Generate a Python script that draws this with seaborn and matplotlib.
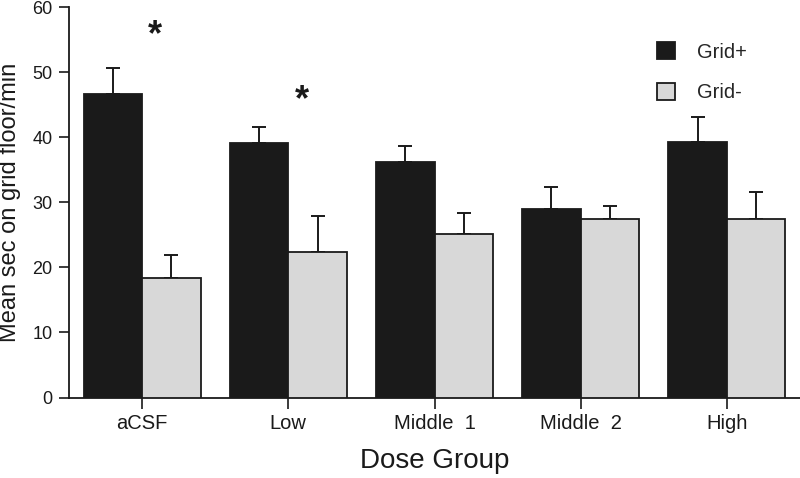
import matplotlib.pyplot as plt
import numpy as np
import pandas as pd
import seaborn as sns

sns.set_style('ticks')
plt.rcParams['font.family'] = ['Liberation Sans', 'DejaVu Sans']

groups = ['aCSF', 'Low', 'Middle  1', 'Middle  2', 'High']
conditions = ['Grid+', 'Grid-']
grid_plus = [46.7, 39.1, 36.2, 28.9, 39.2]
grid_minus = [18.4, 22.3, 25.2, 27.4, 27.4]
sem_plus = [3.9, 2.5, 2.5, 3.5, 3.9]
sem_minus = [3.5, 5.6, 3.2, 2.1, 4.2]
stars = [('aCSF', 55.6), ('Low', 45.6)]

df = pd.DataFrame({
    'group': groups * 2,
    'condition': ['Grid+'] * 5 + ['Grid-'] * 5,
    'value': grid_plus + grid_minus,
    'err': sem_plus + sem_minus,
})

fig = plt.figure(figsize=(8, 4.78), dpi=100)
ax = fig.add_axes([0.08625, 0.1684, 0.91375, 0.8169])

sns.barplot(data=df, x='group', y='value', hue='condition', order=groups,
            hue_order=conditions, palette=['#1a1a1a', '#d8d8d8'],
            errorbar=None, width=0.8, edgecolor='#1a1a1a', linewidth=1.3,
            ax=ax, zorder=3)

# one-sided error bars from the bar tops
for cont, cond in zip(ax.containers, conditions):
    sub = df[df['condition'] == cond].set_index('group').loc[groups]
    xs = [p.get_x() + p.get_width() / 2 for p in cont.patches]
    errs = sub['err'].to_numpy()
    ax.errorbar(xs, sub['value'], yerr=[np.zeros(len(errs)), errs], fmt='none',
                ecolor='#1a1a1a', elinewidth=1.4, capsize=5, capthick=1.4, zorder=2)

for name, y in stars:
    ax.text(groups.index(name) + 0.09, y, '*', ha='center', va='center',
            fontsize=26, fontweight='bold', color='#1a1a1a')

ax.set_xlim(-0.5, 4.5)
ax.set_ylim(0, 60)
ax.set_yticks(range(0, 61, 10))
ax.set_xlabel('Dose Group', fontsize=20, color='#1a1a1a', labelpad=11)
ax.set_ylabel('Mean sec on grid floor/min', fontsize=17, color='#1a1a1a', labelpad=8)
ax.tick_params(axis='y', labelsize=13, length=7, width=1.2, colors='#1a1a1a', pad=5)
ax.tick_params(axis='x', labelsize=14.5, length=8, width=1.2, colors='#1a1a1a', pad=4)
for s in ['left', 'bottom']:
    ax.spines[s].set_linewidth(1.3)
    ax.spines[s].set_color('#1a1a1a')
sns.despine(ax=ax)

ax.legend(loc='upper left', bbox_to_anchor=(0.79, 0.935), frameon=False,
          fontsize=14.5, handlelength=0.9, handleheight=0.9, labelspacing=1.05,
          handletextpad=1.1, borderpad=0)

fig.savefig('out.png', dpi=100)
